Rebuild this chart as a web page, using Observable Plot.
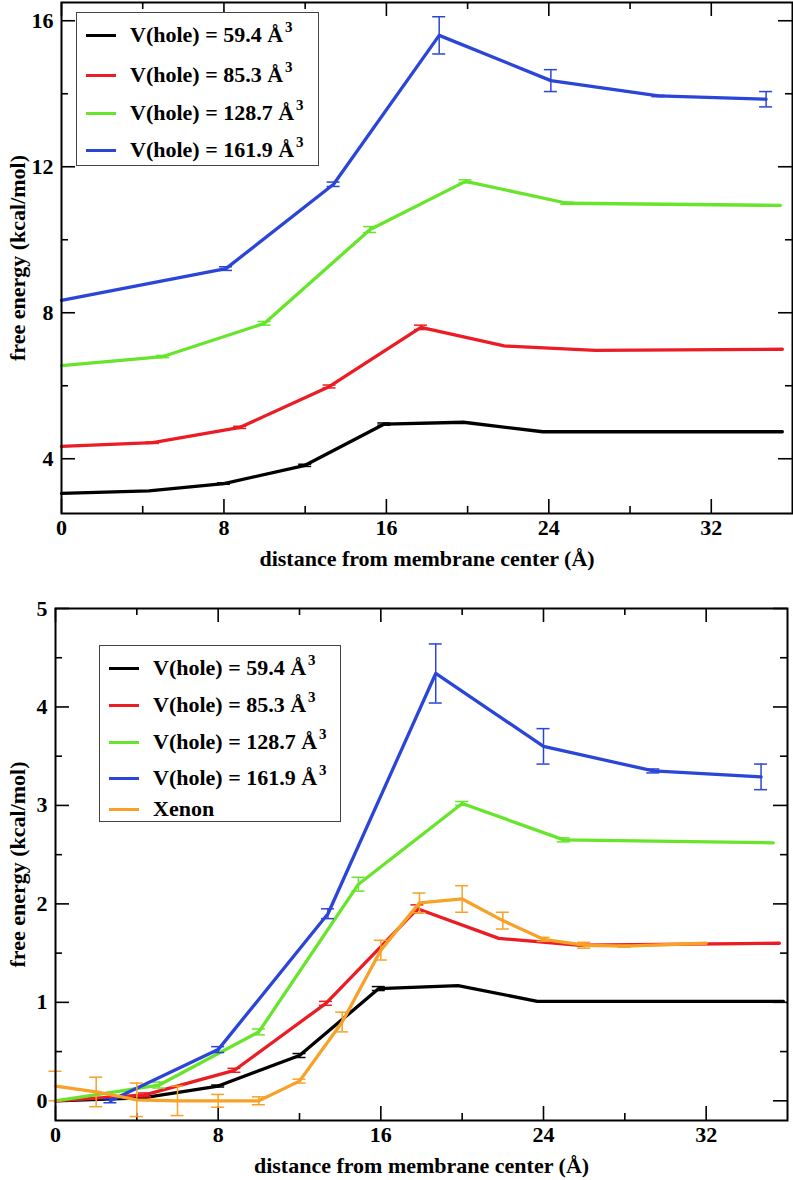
<!DOCTYPE html>
<html><head><meta charset="utf-8">
<script src="https://cdn.jsdelivr.net/npm/d3@7"></script>
<script src="https://cdn.jsdelivr.net/npm/@observablehq/plot@0.6"></script>
<style>
body{margin:0;background:#fff;}
#wrap{position:relative;width:793px;height:1180px;font-family:"Liberation Serif","DejaVu Serif","Noto Serif",serif;font-weight:bold;color:#000;}
#wrap svg{position:absolute;left:0;}
.legend{position:absolute;background:#fff;border:1.5px solid #444;box-sizing:border-box;}
.item{position:absolute;left:0;height:0;width:100%;}
.sw{position:absolute;left:9px;width:30px;height:3px;top:-1.5px}
.lt{position:absolute;left:53px;top:-13px;font-size:22px;white-space:nowrap;line-height:26px}
.lt sup{font-size:15px;vertical-align:0;position:relative;top:-10px;margin-left:2px}
</style></head><body><div id="wrap"></div>
<script>
// ---------- series definitions ----------
const seriesNames = ["V(hole) = 59.4 Å", "V(hole) = 85.3 Å", "V(hole) = 128.7 Å", "V(hole) = 161.9 Å", "Xenon"];
const seriesSup = ["3", "3", "3", "3", ""];
const seriesColors = ["#000000", "#ec1c24", "#66e52b", "#2b45d8", "#f7a128"];

// ---------- axes ----------
const xMajor = [0, 8, 16, 24, 32];
const xMinor = [4, 12, 20, 28];
const topYMajor = [4, 8, 12, 16];
const topYMinor = [6, 10, 14];
const botYMajor = [0, 1, 2, 3, 4, 5];
const botYMinor = [0.5, 1.5, 2.5, 3.5, 4.5];

// ---------- top panel data ----------
const topBlackX = [0, 4.3, 8, 12, 15.9, 19.8, 23.7, 35.5];
const topBlackY = [3.05, 3.12, 3.32, 3.82, 4.95, 5.0, 4.74, 4.74];
const topBlackE = [0, 0, 0.02, 0.03, 0.03, 0, 0, 0];

const topRedX = [0, 4.5, 8.8, 13.2, 17.7, 21.8, 26.3, 35.5];
const topRedY = [4.34, 4.44, 4.86, 5.98, 7.6, 7.09, 6.97, 7.0];
const topRedE = [0, 0.02, 0.03, 0.04, 0.06, 0, 0, 0];

const topGreenX = [0, 5.0, 10.0, 15.2, 19.9, 24.9, 35.4];
const topGreenY = [6.55, 6.8, 7.71, 10.28, 11.6, 11.0, 10.94];
const topGreenE = [0, 0.03, 0.05, 0.08, 0.04, 0.03, 0];

const topBlueX = [0, 8.1, 13.4, 18.6, 24.1, 29.4, 34.7];
const topBlueY = [8.34, 9.21, 11.52, 15.6, 14.36, 13.94, 13.85];
const topBlueE = [0, 0.05, 0.06, 0.51, 0.3, 0.02, 0.21];

// ---------- bottom panel data ----------
const botBlackX = [0, 4.3, 8, 12, 15.9, 19.8, 23.7, 35.8];
const botBlackY = [0, 0.03, 0.15, 0.46, 1.14, 1.17, 1.01, 1.01];
const botBlackE = [0, 0, 0.01, 0.02, 0.02, 0, 0, 0];

const botRedX = [0, 4.4, 8.8, 13.3, 17.8, 21.8, 25.8, 35.6];
const botRedY = [0, 0.06, 0.31, 0.99, 1.95, 1.65, 1.58, 1.6];
const botRedE = [0, 0.02, 0.02, 0.02, 0.04, 0, 0, 0];

const botGreenX = [0, 5.1, 10.0, 14.9, 20.0, 25.0, 35.3];
const botGreenY = [0, 0.16, 0.7, 2.2, 3.02, 2.65, 2.62];
const botGreenE = [0, 0.03, 0.03, 0.07, 0.02, 0.02, 0];

const botBlueX = [2.7, 8.0, 13.4, 18.7, 24.0, 29.4, 34.7];
const botBlueY = [0, 0.52, 1.9, 4.34, 3.6, 3.35, 3.29];
const botBlueE = [0.02, 0.03, 0.05, 0.3, 0.18, 0.02, 0.13];

const botXenonX = [0, 2, 4, 6, 8, 10, 12, 14.1, 16, 17.9, 20, 22, 24, 26, 28, 32];
const botXenonY = [0.15, 0.09, 0.01, 0.0, 0.0, 0.0, 0.2, 0.8, 1.53, 2.01, 2.05, 1.83, 1.64, 1.58, 1.57, 1.6];
const botXenonE = [0.15, 0.15, 0.17, 0.15, 0.065, 0.04, 0.02, 0.1, 0.1, 0.1, 0.135, 0.085, 0.02, 0.03, 0.01, 0];

function rows(xs, ys, es, s) { return xs.map((x, i) => ({x, y: ys[i], e: es[i], s})); }

const topData = [
  rows(topBlackX, topBlackY, topBlackE, 0),
  rows(topRedX, topRedY, topRedE, 1),
  rows(topGreenX, topGreenY, topGreenE, 2),
  rows(topBlueX, topBlueY, topBlueE, 3)
];
const botData = [
  rows(botBlackX, botBlackY, botBlackE, 0),
  rows(botRedX, botRedY, botRedE, 1),
  rows(botGreenX, botGreenY, botGreenE, 2),
  rows(botBlueX, botBlueY, botBlueE, 3),
  rows(botXenonX, botXenonY, botXenonE, 4)
];

const FONT = "'Liberation Serif', 'DejaVu Serif', 'Noto Serif', serif";

function panel({series, yDomain, yMajor, yMinor, height, mt, mb, ml, mr, xLabelOffset, yLabelOffset}) {
  const W = 793;
  const fw = W - ml - mr, fh = height - mt - mb;
  const marks = [
    Plot.ruleX(xMajor, {x: d => d, insetTop: fh - 14, stroke: "#000", strokeWidth: 1.6}),
    Plot.ruleX(xMajor, {x: d => d, insetBottom: fh - 14, stroke: "#000", strokeWidth: 1.6}),
    Plot.ruleX(xMinor, {x: d => d, insetTop: fh - 7, stroke: "#000", strokeWidth: 1.6}),
    Plot.ruleX(xMinor, {x: d => d, insetBottom: fh - 7, stroke: "#000", strokeWidth: 1.6}),
    Plot.ruleY(yMajor, {y: d => d, insetRight: fw - 14, stroke: "#000", strokeWidth: 1.6}),
    Plot.ruleY(yMajor, {y: d => d, insetLeft: fw - 14, stroke: "#000", strokeWidth: 1.6}),
    Plot.ruleY(yMinor, {y: d => d, insetRight: fw - 7, stroke: "#000", strokeWidth: 1.6}),
    Plot.ruleY(yMinor, {y: d => d, insetLeft: fw - 7, stroke: "#000", strokeWidth: 1.6})
  ];
  series.forEach(data => {
    const c = seriesColors[data[0].s];
    const err = data.filter(d => d.e > 0);
    marks.push(Plot.line(data, {x: "x", y: "y", stroke: c, strokeWidth: 3.3, strokeLinejoin: "round"}));
    marks.push(Plot.ruleX(err, {x: "x", y1: d => d.y - d.e, y2: d => d.y + d.e, stroke: c, strokeWidth: 1.5}));
    marks.push(Plot.ruleY(err, {x1: "x", x2: "x", y: d => d.y + d.e, insetLeft: -6.5, insetRight: -6.5, stroke: c, strokeWidth: 1.5}));
    marks.push(Plot.ruleY(err, {x1: "x", x2: "x", y: d => d.y - d.e, insetLeft: -6.5, insetRight: -6.5, stroke: c, strokeWidth: 1.5}));
  });
  marks.push(
    Plot.axisX({ticks: xMajor, tickSize: 0, tickPadding: 6, tickFormat: d => String(d), label: "distance from membrane center (Å)", labelAnchor: "center", labelArrow: "none", labelOffset: xLabelOffset}),
    Plot.axisY({ticks: yMajor, tickSize: 0, tickPadding: 8, tickFormat: d => String(d), label: "free energy (kcal/mol)", labelAnchor: "center", labelArrow: "none", labelOffset: yLabelOffset}),
    Plot.frame({stroke: "#000", strokeWidth: 2})
  );
  return Plot.plot({
    width: W, height, marginTop: mt, marginBottom: mb, marginLeft: ml, marginRight: mr,
    style: {fontFamily: FONT, fontWeight: "bold", fontSize: "22px", color: "#000", background: "transparent", overflow: "visible"},
    x: {domain: [0, 36]},
    y: {domain: yDomain},
    marks
  });
}

const wrap = document.getElementById("wrap");
const top1 = panel({series: topData, yDomain: [2.5, 16.5], yMajor: topYMajor, yMinor: topYMinor, height: 590, mt: 2, mb: 77, ml: 61, mr: 1, xLabelOffset: 52, yLabelOffset: 52});
top1.style.top = "0px";
wrap.appendChild(top1);
const bot1 = panel({series: botData, yDomain: [-0.2, 5], yMajor: botYMajor, yMinor: botYMinor, height: 590, mt: 18, mb: 60, ml: 55, mr: 6, xLabelOffset: 52, yLabelOffset: 46});
bot1.style.top = "590px";
wrap.appendChild(bot1);

function legend(left, top, w, h, idx, rowsY) {
  const box = document.createElement("div");
  box.className = "legend";
  Object.assign(box.style, {left: left + "px", top: top + "px", width: w + "px", height: h + "px"});
  idx.forEach((s, k) => {
    const it = document.createElement("div");
    it.className = "item";
    it.style.top = rowsY[k] + "px";
    const sw = document.createElement("div");
    sw.className = "sw"; sw.style.background = seriesColors[s];
    const t = document.createElement("div");
    t.className = "lt";
    t.textContent = seriesNames[s];
    if (seriesSup[s]) { const sp = document.createElement("sup"); sp.textContent = seriesSup[s]; t.appendChild(sp); }
    it.appendChild(sw); it.appendChild(t);
    box.appendChild(it);
  });
  wrap.appendChild(box);
}
legend(76, 12, 243, 154, [0, 1, 2, 3], [22, 62, 100, 137]);
legend(99, 645, 242, 177, [0, 1, 2, 3, 4], [22, 59, 96, 132, 163]);
</script>
</body></html>
